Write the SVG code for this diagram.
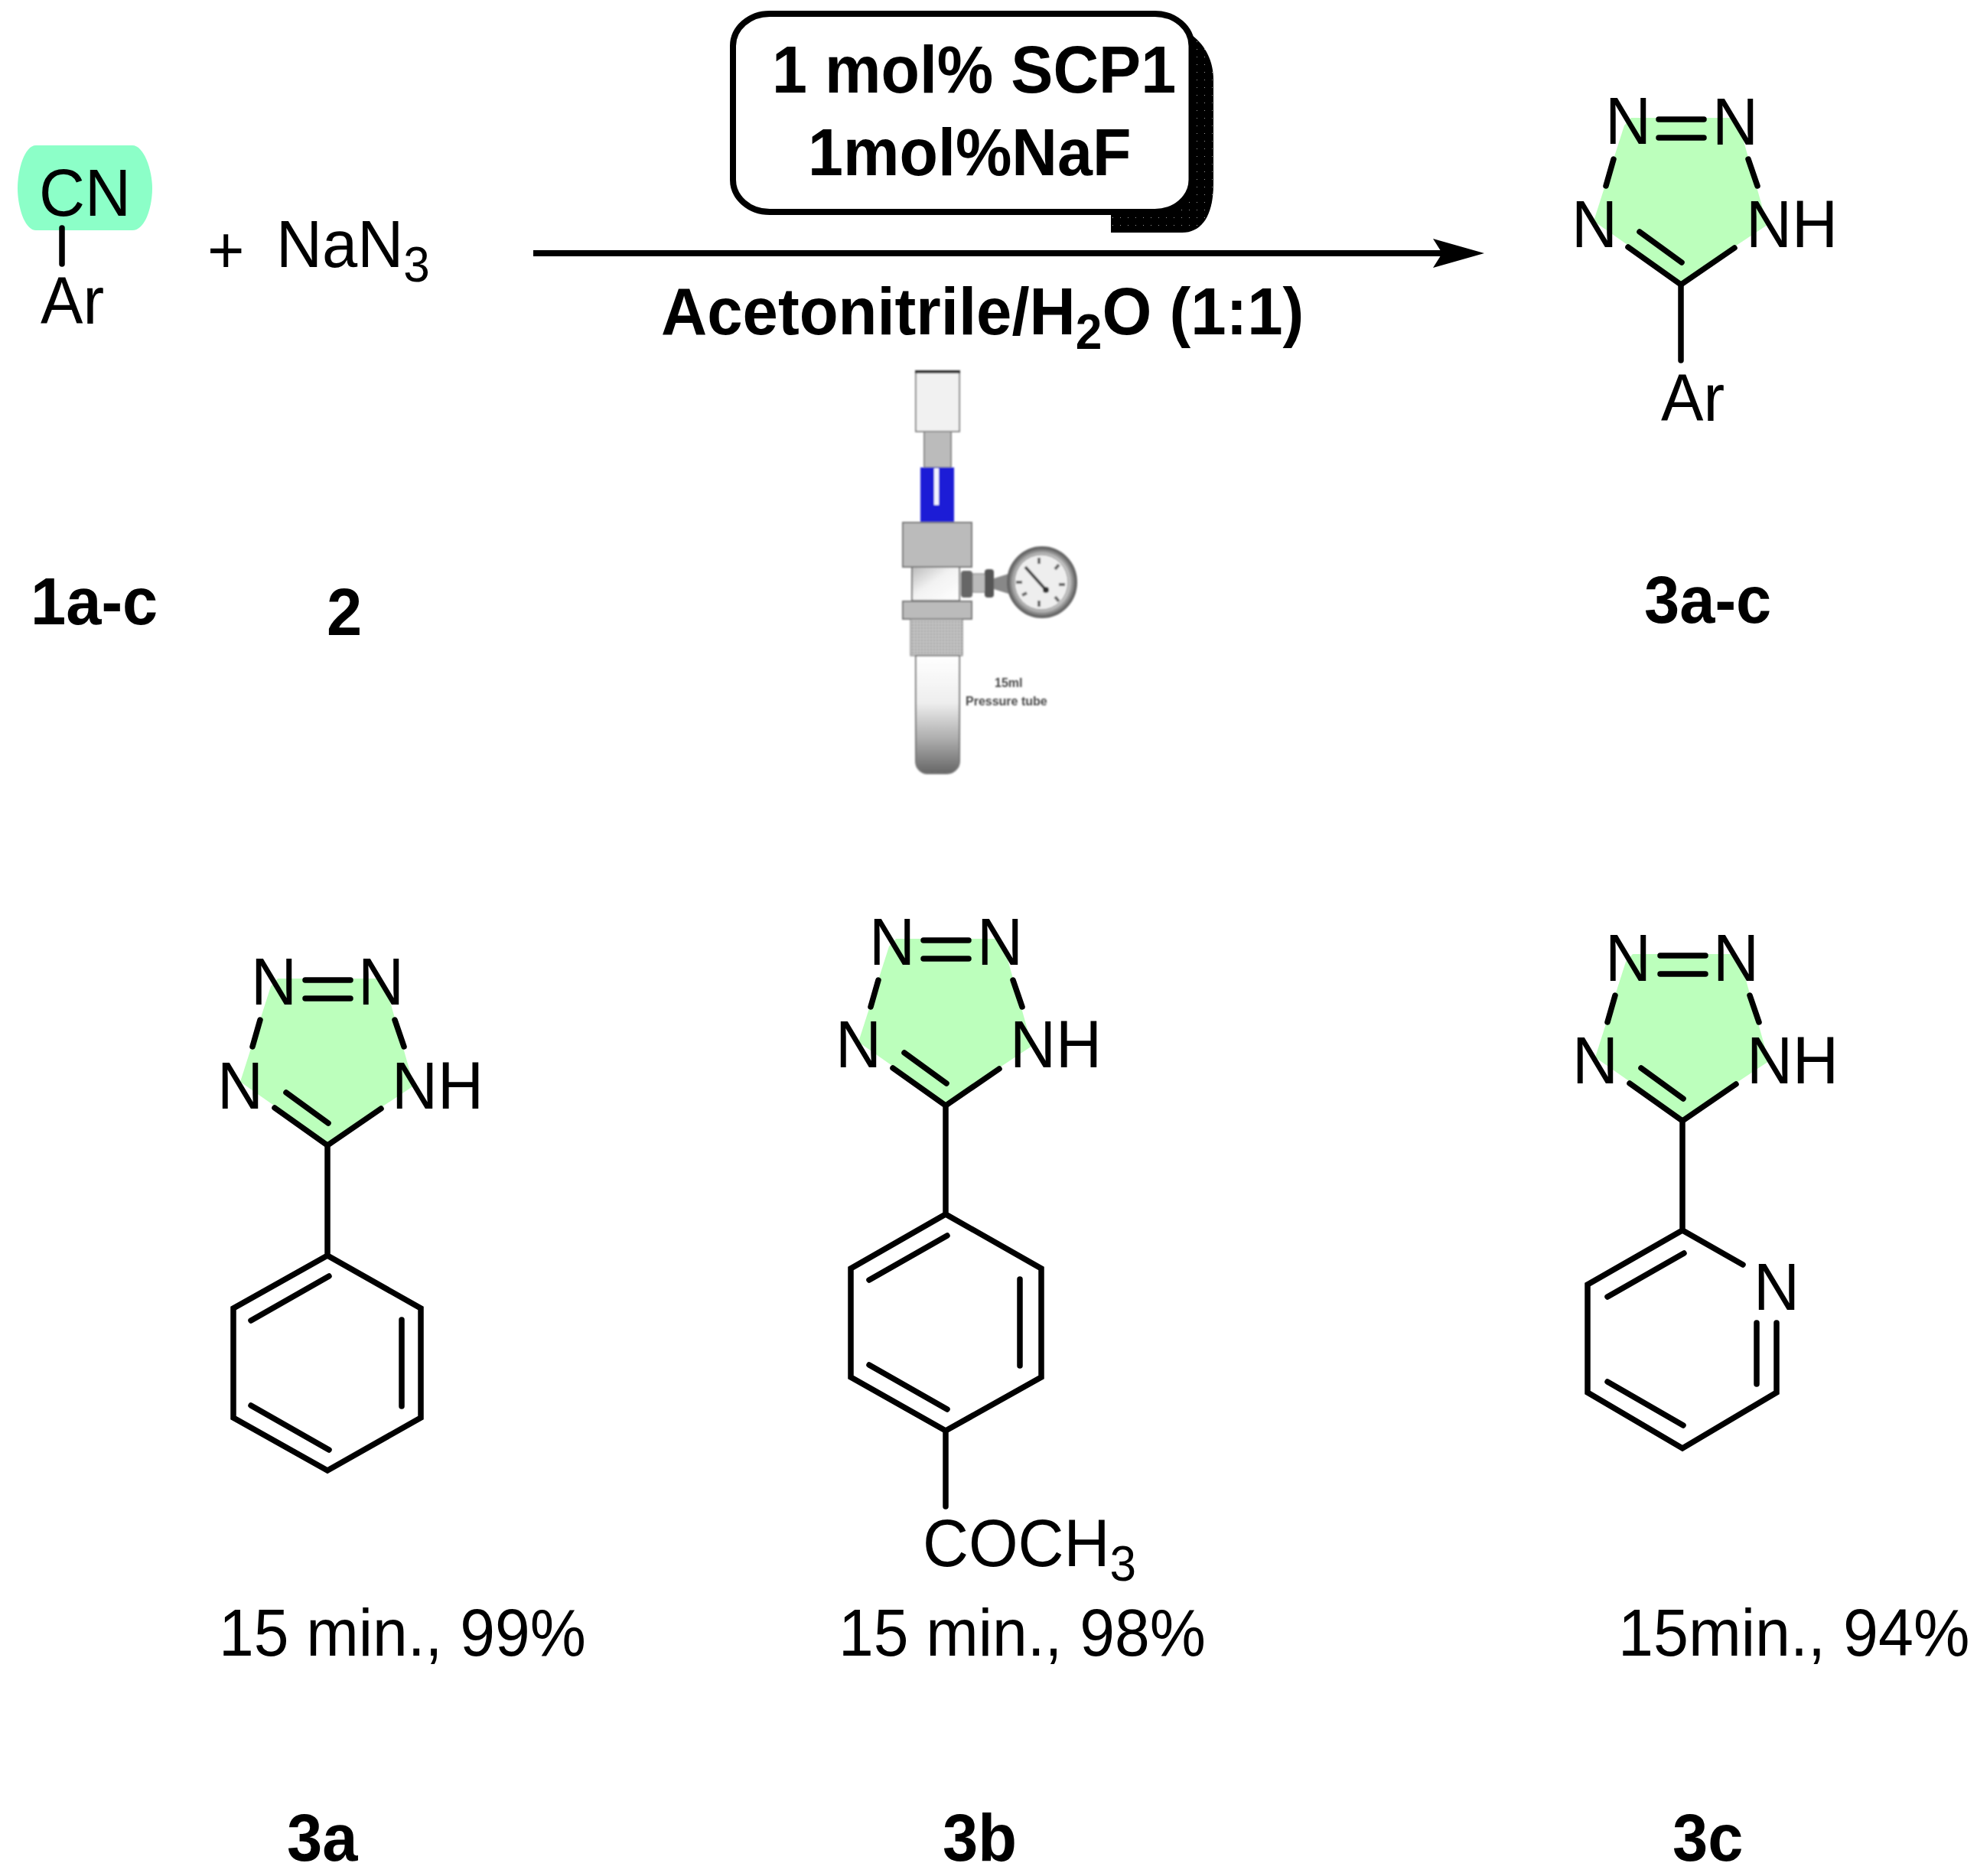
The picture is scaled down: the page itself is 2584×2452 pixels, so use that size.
<svg xmlns="http://www.w3.org/2000/svg" xmlns:xlink="http://www.w3.org/1999/xlink" width="2584" height="2452" viewBox="0 0 2584 2452">
<style>
text{font-family:"Liberation Sans",Arial,sans-serif;font-size:87px;fill:#000}
.b{font-weight:700}
.s{font-size:65px}
.bond{stroke:#000;stroke-width:7.5;fill:none;stroke-linecap:round;stroke-linejoin:miter}
.hl{fill:#bcffbc}
.tiny{font-size:16px;font-weight:700;fill:#444}
.edge{stroke:#777;stroke-width:2}
</style>
<defs>
<marker id="head" markerUnits="userSpaceOnUse" markerWidth="70" markerHeight="42" refX="12" refY="21" orient="auto" viewBox="0 0 70 42">
<path d="M0 2L67 21L0 40L12 21Z" fill="#000"/>
</marker>
<pattern id="dots" width="10" height="10" patternUnits="userSpaceOnUse">
<rect width="10" height="10" fill="#000"/><rect x="4" y="4" width="1" height="1" fill="#999"/>
</pattern>
<pattern id="knurl" width="4" height="4" patternUnits="userSpaceOnUse">
<rect width="4" height="4" fill="#c4c4c4"/><rect width="2" height="2" fill="#9a9a9a"/>
</pattern>
<linearGradient id="tubeG" x1="0" y1="0" x2="0" y2="1">
<stop offset="0" stop-color="#fff"/><stop offset=".4" stop-color="#eee"/><stop offset=".72" stop-color="#aaa"/><stop offset="1" stop-color="#666"/>
</linearGradient>
<linearGradient id="bodyG" x1="0" y1="0" x2="1" y2="1">
<stop offset="0" stop-color="#bbb"/><stop offset=".45" stop-color="#f2f2f2"/><stop offset="1" stop-color="#fff"/>
</linearGradient>
<radialGradient id="ringG" cx=".5" cy=".5" r=".5">
<stop offset=".78" stop-color="#ccc"/><stop offset=".9" stop-color="#8a8a8a"/><stop offset="1" stop-color="#555"/>
</radialGradient>
<filter id="soft" x="-5%" y="-5%" width="110%" height="110%"><feGaussianBlur stdDeviation="1"/></filter>
<g id="tz">
<path class="hl" d="M-65-218H66L81-191L113-78L0-3L-114-83L-74-208Z"/>
<path class="bond" d="M-29-216H30M-29-192H30M-88-164L-98-129M88-164L100-129M-69-49L0 0L70-48M-54-69L1-29"/>
</g>
</defs>
<rect width="2584" height="2452" fill="#fff"/>

<g id="connectors">
<line x1="697" y1="331" x2="1885" y2="331" stroke="#000" stroke-width="8" marker-end="url(#head)"/>
</g>

<g id="node-1">
<path d="M47 190H173C188 190 199 222 199 246C199 270 190 301 173 301H47C32 301 23 270 23 246C23 222 32 190 47 190Z" fill="#8cffc8"/>
<text transform="matrix(.955 0 0 1 51 282)">CN</text>
<line class="bond" x1="81" y1="298" x2="81" y2="345"/>
<text transform="matrix(.955 0 0 1 53 423)">Ar</text>
<text class="b" transform="matrix(.955 0 0 1 40 816)">1a-c</text>
</g>

<g id="node-plus"><text transform="matrix(.955 0 0 1 271 357)">+</text></g>

<g id="node-2">
<text transform="matrix(.955 0 0 1 361 349)">NaN<tspan class="s" dy="19">3</tspan></text>
<text class="b" transform="matrix(.955 0 0 1 427 830)">2</text>
</g>

<g id="node-conditions">
<path d="M1452 281V304H1545C1572 304 1586 280 1586 240V105C1586 80 1576 60 1558 46Z" fill="url(#dots)"/>
<rect x="958" y="18" width="599.5" height="259" rx="48" ry="42" fill="#fff" stroke="#000" stroke-width="8"/>
<text class="b" transform="matrix(.95 0 0 1 1009 121)">1 mol% SCP1</text>
<text class="b" transform="matrix(.95 0 0 1 1056 229)">1mol%NaF</text>
</g>

<g id="node-solvent">
<text class="b" transform="matrix(.958 0 0 1 864 437)">Acetonitrile/H<tspan class="s" dy="19">2</tspan><tspan dy="-19">O (1:1)</tspan></text>
</g>

<g id="node-pressure-tube" filter="url(#soft)">
<rect x="1197" y="486" width="57" height="78" fill="#f1f1f1" stroke="#888" stroke-width="2"/>
<rect x="1196" y="484" width="59" height="4" fill="#333"/>
<rect x="1208" y="564" width="35" height="47" fill="#bbb" stroke="#888" stroke-width="2"/>
<rect x="1203" y="611" width="44" height="71" fill="#1a1ad6"/>
<rect x="1221" y="612" width="6" height="48" fill="#f4f4ff"/>
<rect class="edge" x="1180" y="683" width="90" height="58" fill="#bbb"/>
<rect class="edge" x="1192" y="741" width="62" height="44" fill="url(#bodyG)"/>
<rect class="edge" x="1180" y="786" width="90" height="23" fill="#bbb"/>
<rect x="1190" y="809" width="68" height="48" fill="url(#knurl)" stroke="#777" stroke-width="1"/>
<path class="edge" d="M1197 857H1254V995C1254 1004 1246 1011 1238 1011H1212C1204 1011 1197 1004 1197 995Z" fill="url(#tubeG)"/>
<rect x="1271" y="750" width="17" height="24" fill="#bbb" stroke="#777"/>
<rect x="1256" y="746" width="15" height="35" rx="4" fill="#666"/>
<rect x="1287" y="744" width="12" height="37" rx="4" fill="#555"/>
<path d="M1299 756L1318 750V776L1299 770Z" fill="#888"/>
<ellipse cx="1362" cy="761" rx="45" ry="46" fill="url(#ringG)" stroke="#666" stroke-width="2"/>
<ellipse cx="1361" cy="761" rx="35" ry="36" fill="#eee" stroke="#888"/>
<path d="M1358 729V737M1384 738L1379 744M1392 764H1384M1358 793V785M1384 786L1379 780M1336 778L1342 775M1328 761H1336" stroke="#666" stroke-width="4" fill="none"/>
<path d="M1340 741L1367 771" stroke="#444" stroke-width="4" fill="none"/>
<circle cx="1367" cy="771" r="4" fill="#333"/>
<text class="tiny" x="1300" y="898">15ml</text>
<text class="tiny" x="1262" y="922">Pressure tube</text>
</g>

<g id="node-3a-c">
<use href="#tz" xlink:href="#tz" x="2197" y="372"/>
<line class="bond" x1="2197" y1="372" x2="2197" y2="471"/>
<text transform="matrix(.955 0 0 1 2098 188)">N</text>
<text transform="matrix(.955 0 0 1 2238 189)">N</text>
<text transform="matrix(.955 0 0 1 2054 323)">N</text>
<text transform="matrix(.955 0 0 1 2282 323)">NH</text>
<text transform="matrix(.955 0 0 1 2171 550)">Ar</text>
<text class="b" transform="matrix(.955 0 0 1 2149 814)">3a-c</text>
</g>

<g id="node-3a">
<use href="#tz" xlink:href="#tz" x="428" y="1497"/>
<path class="bond" d="M428 1497V1641L550 1710V1853L428 1922L305 1853V1710L428 1641M430 1668L328 1726M525 1725V1838M328 1837L430 1895"/>
<text transform="matrix(.955 0 0 1 328 1313)">N</text>
<text transform="matrix(.955 0 0 1 468 1313)">N</text>
<text transform="matrix(.955 0 0 1 284 1449)">N</text>
<text transform="matrix(.955 0 0 1 512 1449)">NH</text>
<text transform="matrix(.945 0 0 1 286 2164)">15 min., 99%</text>
<text class="b" transform="matrix(.955 0 0 1 375 2432)">3a</text>
</g>

<g id="node-3b">
<use href="#tz" xlink:href="#tz" x="1236" y="1445"/>
<path class="bond" d="M1236 1445V1587L1361 1658V1800L1236 1870L1112 1800V1658L1236 1587M1238 1615L1136 1673M1333 1672V1785M1136 1784L1238 1842M1236 1870V1969"/>
<text transform="matrix(.955 0 0 1 1136 1261)">N</text>
<text transform="matrix(.955 0 0 1 1277 1261)">N</text>
<text transform="matrix(.955 0 0 1 1092 1395)">N</text>
<text transform="matrix(.955 0 0 1 1320 1395)">NH</text>
<text transform="matrix(.955 0 0 1 1206 2047)">COCH<tspan class="s" dy="19">3</tspan></text>
<text transform="matrix(.945 0 0 1 1096 2164)">15 min., 98%</text>
<text class="b" transform="matrix(.955 0 0 1 1232 2432)">3b</text>
</g>

<g id="node-3c">
<use href="#tz" xlink:href="#tz" x="2199" y="1465"/>
<path class="bond" d="M2199 1465V1608L2278 1653M2199 1608L2075 1679V1820L2199 1893L2322 1820V1729M2201 1638L2101 1695M2101 1806L2200 1863M2296 1729V1809"/>
<text transform="matrix(.955 0 0 1 2098 1282)">N</text>
<text transform="matrix(.955 0 0 1 2239 1282)">N</text>
<text transform="matrix(.955 0 0 1 2055 1416)">N</text>
<text transform="matrix(.955 0 0 1 2283 1416)">NH</text>
<text transform="matrix(.955 0 0 1 2292 1712)">N</text>
<text transform="matrix(.95 0 0 1 2115 2164)">15min., 94%</text>
<text class="b" transform="matrix(.955 0 0 1 2186 2432)">3c</text>
</g>
</svg>
